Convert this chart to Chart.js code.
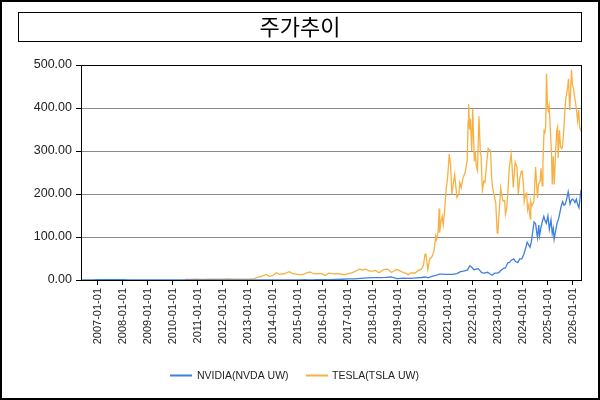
<!DOCTYPE html>
<html>
<head>
<meta charset="utf-8">
<script src="https://cdn.jsdelivr.net/npm/chart.js@4.4.1/dist/chart.umd.min.js"></script>
<style>
html,body{margin:0;padding:0;background:#fff;}
#wrap{width:600px;height:400px;position:relative;}
</style>
</head>
<body>
<div id="wrap"><canvas id="c" width="600" height="400"></canvas></div>
<script>
const chartTitle = '주가추이';
const seriesNames = ['NVIDIA(NVDA UW)', 'TESLA(TSLA UW)'];
const seriesColors = ['#3f7fdf', '#f7b142'];
const yTickValues = [0, 100, 200, 300, 400, 500];
const xTickLabels = ['2007-01-01','2008-01-01','2009-01-01','2010-01-01','2011-01-01','2012-01-01','2013-01-01','2014-01-01','2015-01-01','2016-01-01','2017-01-01','2018-01-01','2019-01-01','2020-01-01','2021-01-01','2022-01-01','2023-01-01','2024-01-01','2025-01-01','2026-01-01'];
const xRange = ['2006-05-05', '2026-05-04'];

const nvdaDates = ['2006-05-05','2006-07-15','2006-10-15','2007-01-15','2007-04-15','2007-07-15','2007-10-15','2008-01-15','2008-04-15','2008-07-15','2008-10-15','2009-01-15','2009-04-15','2009-07-15','2009-10-15','2010-01-15','2010-04-15','2010-07-15','2010-10-15','2011-01-15','2011-04-15','2011-07-15','2011-10-15','2012-01-15','2012-04-15','2012-07-15','2012-10-15','2013-01-15','2013-04-15','2013-07-15','2013-10-15','2014-01-15','2014-04-15','2014-07-15','2014-10-15','2015-01-15','2015-04-15','2015-07-15','2015-10-15','2016-01-15','2016-04-15','2016-07-15','2016-10-15','2017-01-15','2017-04-15','2017-07-15','2017-10-15','2018-01-15','2018-04-15','2018-07-15','2018-10-01','2018-12-20','2019-02-15','2019-04-15','2019-06-01','2019-08-15','2019-10-15','2019-12-15','2020-02-15','2020-03-20','2020-05-15','2020-07-15','2020-09-01','2020-10-15','2020-11-20','2021-01-15','2021-03-10','2021-05-15','2021-07-10','2021-08-20','2021-09-20','2021-10-20','2021-11-22','2021-12-20','2022-01-20','2022-03-25','2022-05-15','2022-06-20','2022-08-10','2022-09-20','2022-10-13','2022-11-20','2022-12-20','2023-01-20','2023-02-20','2023-03-25','2023-04-25','2023-05-30','2023-06-25','2023-07-20','2023-08-25','2023-09-20','2023-10-25','2023-11-20','2023-12-20','2024-01-20','2024-02-22','2024-03-08','2024-04-19','2024-05-10','2024-05-28','2024-06-18','2024-07-10','2024-07-25','2024-08-07','2024-08-25','2024-09-06','2024-09-25','2024-10-15','2024-11-07','2024-11-25','2024-12-15','2025-01-06','2025-01-27','2025-02-20','2025-03-10','2025-03-25','2025-04-07','2025-04-25','2025-05-20','2025-06-10','2025-06-30','2025-07-20','2025-08-10','2025-08-30','2025-09-15','2025-10-05','2025-10-29','2025-11-10','2025-11-25','2025-12-10','2025-12-28','2026-01-15','2026-02-05','2026-02-25','2026-03-15','2026-04-05','2026-04-20','2026-05-04'];
const nvdaValues = [0.45,0.33,0.5,0.55,0.6,0.8,0.9,0.6,0.5,0.3,0.2,0.2,0.25,0.3,0.35,0.4,0.42,0.26,0.3,0.5,0.45,0.35,0.35,0.35,0.32,0.3,0.3,0.3,0.32,0.35,0.38,0.4,0.45,0.45,0.48,0.5,0.55,0.5,0.65,0.75,0.9,1.3,1.8,2.6,2.5,4.0,4.9,5.5,5.6,6.2,7.0,3.4,3.9,4.5,3.6,4.2,4.9,5.8,7.0,5.0,8.5,10.5,13.5,13.8,13.3,13.0,13.2,15.0,19.5,20.5,22.0,23.5,33.0,29.5,24.0,26.5,17.0,16.0,18.0,13.5,11.2,16.0,16.0,17.0,22.5,26.5,28.0,40.0,41.0,46.0,49.0,43.0,41.0,49.0,49.0,60.0,78.0,88.0,76.0,90.0,112.0,135.0,131.0,112.0,98.0,128.0,103.0,121.0,135.0,148.0,138.0,132.0,149.0,118.0,140.0,108.0,120.0,95.0,111.0,133.0,142.0,157.0,172.0,182.0,174.0,176.0,187.0,205.0,193.0,177.0,184.0,188.0,186.0,180.0,188.0,176.0,168.0,190.0,210.0];

const tslaDates = ['2010-06-29','2010-09-15','2010-12-15','2011-03-15','2011-06-15','2011-09-15','2011-12-15','2012-03-15','2012-06-15','2012-09-15','2012-12-15','2013-02-15','2013-04-15','2013-05-15','2013-07-15','2013-09-30','2013-11-15','2013-12-31','2014-02-26','2014-04-15','2014-06-15','2014-09-04','2014-10-15','2014-12-15','2015-01-15','2015-03-15','2015-05-15','2015-07-01','2015-08-24','2015-10-15','2015-12-15','2016-02-10','2016-04-01','2016-06-15','2016-08-15','2016-11-15','2016-12-31','2017-03-15','2017-06-23','2017-08-15','2017-09-18','2017-11-15','2017-12-31','2018-02-15','2018-04-02','2018-06-18','2018-08-07','2018-10-05','2018-12-15','2019-01-15','2019-03-15','2019-05-15','2019-06-03','2019-07-15','2019-09-15','2019-10-25','2019-12-15','2020-01-15','2020-02-04','2020-02-19','2020-03-18','2020-04-15','2020-05-15','2020-06-15','2020-07-13','2020-07-24','2020-08-15','2020-08-31','2020-09-08','2020-09-25','2020-10-15','2020-10-30','2020-11-20','2020-12-10','2020-12-31','2021-01-26','2021-02-15','2021-03-05','2021-03-20','2021-04-15','2021-05-18','2021-06-15','2021-06-30','2021-07-20','2021-08-15','2021-09-15','2021-10-15','2021-10-29','2021-11-04','2021-11-18','2021-12-01','2021-12-20','2022-01-03','2022-01-27','2022-02-10','2022-02-24','2022-03-14','2022-04-04','2022-04-26','2022-05-05','2022-05-24','2022-06-15','2022-07-01','2022-07-25','2022-08-16','2022-09-21','2022-10-05','2022-10-24','2022-11-15','2022-12-05','2022-12-27','2023-01-06','2023-01-31','2023-02-15','2023-03-03','2023-03-20','2023-04-15','2023-04-26','2023-05-15','2023-06-01','2023-06-21','2023-07-18','2023-07-31','2023-08-18','2023-09-01','2023-09-15','2023-10-10','2023-10-31','2023-11-20','2023-12-15','2023-12-28','2024-01-15','2024-01-25','2024-02-15','2024-03-01','2024-03-15','2024-04-01','2024-04-22','2024-04-30','2024-05-15','2024-06-15','2024-07-10','2024-07-25','2024-08-07','2024-08-20','2024-09-15','2024-09-27','2024-10-15','2024-10-25','2024-11-11','2024-11-20','2024-12-04','2024-12-17','2024-12-31','2025-01-10','2025-01-24','2025-02-10','2025-02-28','2025-03-10','2025-03-25','2025-04-08','2025-04-25','2025-05-14','2025-05-28','2025-06-05','2025-06-23','2025-07-10','2025-07-24','2025-08-05','2025-08-25','2025-09-12','2025-09-25','2025-10-03','2025-10-20','2025-11-03','2025-11-20','2025-12-01','2025-12-16','2025-12-30','2026-01-15','2026-02-05','2026-02-25','2026-03-15','2026-04-01','2026-04-15','2026-05-04'];
const tslaValues = [1.59,1.35,1.8,1.6,1.9,1.7,1.9,2.4,2.1,1.95,2.25,2.5,3.3,5.8,7.9,12.8,8.5,10.0,16.9,13.3,14.5,19.3,15.4,13.8,12.5,12.6,16.5,18.6,14.6,14.3,15.5,10.3,15.8,14.3,15.0,12.3,14.2,17.3,25.3,23.3,25.7,20.6,20.8,22.2,16.8,24.5,25.3,17.4,24.4,23.1,18.4,15.0,11.9,16.6,16.3,21.9,25.3,34.2,59.1,60.0,24.1,49.0,53.3,66.0,101.9,94.0,110.0,166.1,110.1,135.0,148.0,129.0,163.0,210.0,235.2,293.0,266.0,199.0,218.0,245.0,192.0,200.0,226.0,215.0,238.0,250.0,280.0,370.0,409.0,350.0,375.0,300.0,399.0,276.0,300.0,266.0,255.0,381.0,292.0,290.0,209.0,230.0,227.0,270.0,306.0,300.0,240.0,211.0,195.0,180.0,109.0,113.0,174.0,214.0,198.0,184.0,185.0,153.0,167.0,207.0,262.0,293.0,267.0,215.0,245.0,274.0,263.0,200.0,235.0,253.0,253.0,219.0,182.0,200.0,202.0,163.0,175.0,142.0,183.0,173.0,182.0,263.0,220.0,191.0,222.0,230.0,260.0,219.0,269.0,350.0,340.0,357.0,480.0,404.0,394.0,406.0,350.0,292.0,222.0,288.0,222.0,284.0,347.0,356.0,284.0,348.0,309.0,305.0,308.0,346.0,395.0,423.0,429.0,447.0,468.0,395.0,430.0,489.0,454.0,445.0,420.0,400.0,370.0,395.0,355.0,346.0];

function toYear(s) {
  const d = new Date(s + 'T00:00:00Z');
  const y = d.getUTCFullYear();
  const a = Date.UTC(y, 0, 1), b = Date.UTC(y + 1, 0, 1);
  return y + (d.getTime() - a) / (b - a);
}
function pts(dates, vals) { return dates.map((d, i) => ({ x: toYear(d), y: vals[i] })); }
const xTickValues = xTickLabels.map(toYear);

const framePlugin = {
  id: 'frame',
  beforeDraw(chart) {
    const ctx = chart.ctx;
    ctx.save();
    ctx.fillStyle = '#fff';
    ctx.fillRect(0, 0, chart.width, chart.height);
    ctx.restore();
  },
  afterDraw(chart) {
    const ctx = chart.ctx, ca = chart.chartArea;
    ctx.save();
    // outer border
    ctx.strokeStyle = '#000';
    ctx.lineWidth = 2;
    ctx.strokeRect(1, 1, chart.width - 2, chart.height - 2);
    // title box
    ctx.lineWidth = 1;
    ctx.strokeRect(18.5, 12.5, 563, 29);
    ctx.fillStyle = '#000';
    ctx.font = '22px "Noto Sans CJK KR"';
    ctx.textAlign = 'center';
    ctx.textBaseline = 'middle';
    ctx.fillText(chartTitle, 300, 27);
    // plot border
    ctx.strokeRect(Math.round(ca.left) + 0.5, Math.round(ca.top) + 0.5, Math.round(ca.right - ca.left), Math.round(ca.bottom - ca.top));
    // legend
    ctx.font = '10.5px "Liberation Sans"';
    ctx.textAlign = 'left';
    const ly = 375;
    const items = [[170, 22, 197], [306, 22, 332]];
    chart.data.datasets.forEach((ds, i) => {
      const [lx, lw, tx] = items[i];
      ctx.strokeStyle = ds.borderColor;
      ctx.lineWidth = 2;
      ctx.beginPath();
      ctx.moveTo(lx, ly + 0.5);
      ctx.lineTo(lx + lw, ly + 0.5);
      ctx.stroke();
      ctx.fillStyle = '#222';
      ctx.fillText(ds.label, tx, ly + 1);
    });
    ctx.restore();
  }
};

new Chart(document.getElementById('c'), {
  type: 'line',
  data: {
    datasets: [
      { label: seriesNames[0], data: pts(nvdaDates, nvdaValues), borderColor: seriesColors[0], backgroundColor: seriesColors[0], borderWidth: 1.3, pointRadius: 0, tension: 0 },
      { label: seriesNames[1], data: pts(tslaDates, tslaValues), borderColor: seriesColors[1], backgroundColor: seriesColors[1], borderWidth: 1.3, pointRadius: 0, tension: 0 }
    ]
  },
  options: {
    responsive: false,
    animation: false,
    devicePixelRatio: 1,
    layout: { padding: { left: 0, right: 19, top: 65, bottom: 0 } },
    plugins: { legend: { display: false }, title: { display: false }, tooltip: { enabled: false } },
    scales: {
      x: {
        type: 'linear',
        min: toYear(xRange[0]),
        max: toYear(xRange[1]),
        afterBuildTicks(scale) { scale.ticks = xTickValues.map(v => ({ value: v })); },
        afterFit(scale) { scale.height = 120; },
        grid: { display: true, drawOnChartArea: false, drawTicks: true, tickLength: 5, tickColor: '#000' },
        border: { display: true, color: '#000', width: 1 },
        ticks: {
          autoSkip: false, minRotation: 90, maxRotation: 90, padding: 3,
          color: '#222', font: { family: 'Liberation Sans', size: 11 },
          callback(v, i) { return xTickLabels[i]; }
        }
      },
      y: {
        min: 0, max: 500,
        afterBuildTicks(scale) { scale.ticks = yTickValues.map(v => ({ value: v })); },
        afterFit(scale) { scale.width = 81; },
        grid: { color: '#8a8a8a', lineWidth: 1, tickLength: 5, tickColor: '#000' },
        border: { display: true, color: '#000', width: 1 },
        ticks: { padding: 4, color: '#222', font: { family: 'Liberation Sans', size: 12.5 }, callback(v) { return Number(v).toFixed(2); } }
      }
    }
  },
  plugins: [framePlugin]
});
</script>
</body>
</html>
